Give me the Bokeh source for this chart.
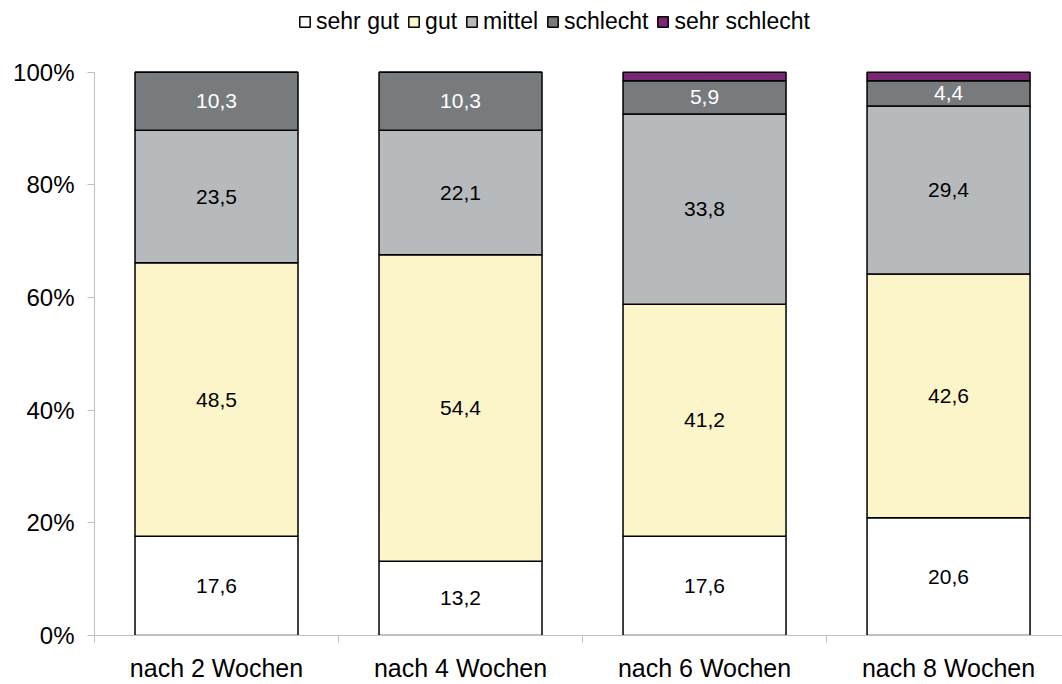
from bokeh.plotting import figure
from bokeh.models import ColumnDataSource, FixedTicker, Range1d, Legend
from bokeh.core.properties import value
from bokeh.embed import file_html
from bokeh.resources import INLINE

categories = ["nach 2 Wochen", "nach 4 Wochen", "nach 6 Wochen", "nach 8 Wochen"]
series_names = ["sehr gut", "gut", "mittel", "schlecht", "sehr schlecht"]
sehr_gut = [17.6, 13.2, 17.6, 20.6]
gut = [48.5, 54.4, 41.2, 42.6]
mittel = [23.5, 22.1, 33.8, 29.4]
schlecht = [10.3, 10.3, 5.9, 4.4]
sehr_schlecht = [0.0, 0.0, 1.5, 1.5]
y_ticks = [0, 20, 40, 60, 80, 100]
y_tick_labels = ["0%", "20%", "40%", "60%", "80%", "100%"]

colors = ["#ffffff", "#fbf5c9", "#b7babc", "#787b7e", "#7b2673"]
label_colors = ["#000000", "#000000", "#000000", "#ffffff", "#ffffff"]
series = [sehr_gut, gut, mittel, schlecht, sehr_schlecht]

FONT = "Liberation Sans"
n = len(categories)
xs = [i + 0.5 for i in range(n)]
totals = [sum(s[i] for s in series) for i in range(n)]

data = {"x": xs}
for name, vals in zip(series_names, series):
    data[name] = [v / t * 100 for v, t in zip(vals, totals)]
source = ColumnDataSource(data)

p = figure(width=1062, height=684, output_backend="svg", toolbar_location=None,
           x_range=Range1d(0, 3.967), y_range=Range1d(0, 112.74),
           min_border_left=94, min_border_right=0, min_border_top=0, min_border_bottom=47)
p.outline_line_color = None
p.xgrid.visible = False
p.ygrid.visible = False
p.background_fill_color = "white"
p.border_fill_color = "white"

renderers = p.vbar_stack(series_names, x="x", width=0.668, source=source,
                         fill_color=colors, line_color="black", line_width=1.5)

# data labels
lab_x, lab_y, lab_t, lab_c = [], [], [], []
for i in range(n):
    base = 0.0
    for k, vals in enumerate(series):
        h = vals[i] / totals[i] * 100
        if vals[i] >= 3:
            lab_x.append(xs[i])
            lab_y.append(base + h / 2)
            lab_t.append(f"{vals[i]:.1f}".replace(".", ","))
            lab_c.append(label_colors[k])
        base += h
lsrc = ColumnDataSource(dict(x=lab_x, y=lab_y, t=lab_t, c=lab_c))
p.text(x="x", y="y", text="t", source=lsrc, text_color="c",
       text_font=value(FONT), text_font_size="21px",
       text_align="center", text_baseline="middle")

axis_gray = "#c0c0c0"
# y axis
p.yaxis.ticker = FixedTicker(ticks=y_ticks, minor_ticks=[])
p.yaxis.major_label_overrides = {t: l for t, l in zip(y_ticks, y_tick_labels)}
p.yaxis.bounds = (0, 100)
p.yaxis.axis_line_color = axis_gray
p.yaxis.major_tick_line_color = axis_gray
p.yaxis.major_tick_out = 7
p.yaxis.major_tick_in = 0
p.yaxis.minor_tick_line_color = None
p.yaxis.major_label_standoff = 13
p.yaxis.major_label_text_font = FONT
p.yaxis.major_label_text_font_size = "24px"
p.yaxis.major_label_text_color = "black"

# x axis
p.xaxis.ticker = FixedTicker(ticks=xs, minor_ticks=list(range(n + 1)))
p.xaxis.major_label_overrides = {x: c for x, c in zip(xs, categories)}
p.xaxis.axis_line_color = axis_gray
p.xaxis.major_tick_line_color = None
p.xaxis.minor_tick_line_color = axis_gray
p.xaxis.minor_tick_out = 7
p.xaxis.minor_tick_in = 0
p.xaxis.major_label_standoff = 11
p.xaxis.major_label_text_font = FONT
p.xaxis.major_label_text_font_size = "25px"
p.xaxis.major_label_text_color = "black"

legend = Legend(items=[(name, [r]) for name, r in zip(series_names, renderers)],
                orientation="horizontal", location=(204, 600),
                glyph_width=13, glyph_height=13, label_standoff=5, spacing=8,
                padding=0, margin=0, border_line_color=None,
                background_fill_alpha=0,
                label_text_font=FONT, label_text_font_size="23px",
                label_text_color="black")
p.add_layout(legend, "center")

open("out.html", "w").write(file_html(p, INLINE))
